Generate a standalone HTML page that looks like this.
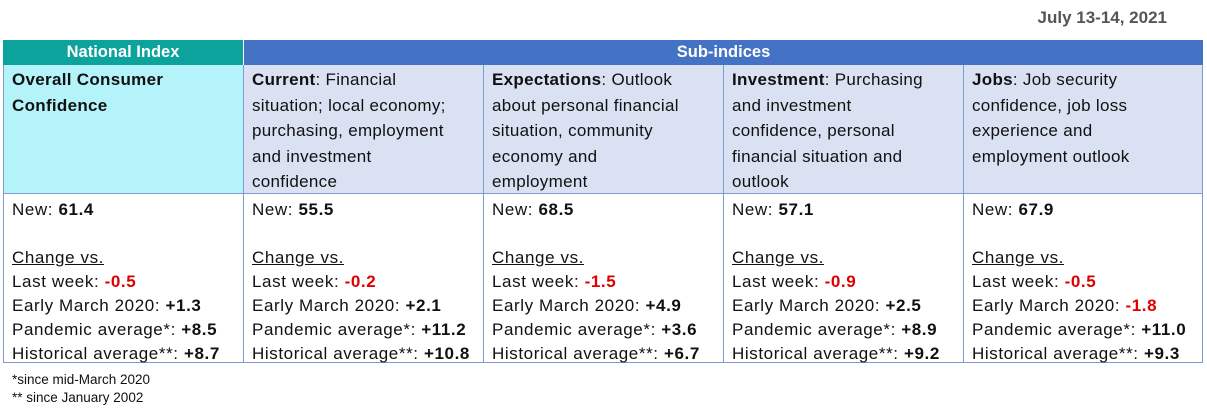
<!DOCTYPE html>
<html><head><meta charset="utf-8"><style>
body{margin:0;width:1207px;height:409px;background:#fff;font-family:"Liberation Sans",sans-serif;position:relative;overflow:hidden;color:#111}
.c{position:absolute;box-sizing:border-box;padding:0 0 0 8px;font-size:17px;white-space:nowrap}
.h{top:40px;height:25px;color:#fff;font-weight:bold;text-align:center;line-height:25px;font-size:16.5px;padding:0}
.r2{top:65px;height:128px;line-height:25.5px;padding-top:2px;border-right:1px solid #7f9bd0;letter-spacing:0.3px}
.r3{top:193px;height:170px;line-height:24px;padding-top:4px;border-right:1px solid #7f9bd0;border-bottom:1px solid #7f9bd0;border-top:1px solid #7f9bd0;letter-spacing:0.6px}
.red{color:#e00000;font-weight:bold}
u{text-decoration:underline}
</style></head><body>
<div style="position:absolute;right:40px;top:8px;font-weight:bold;font-size:17px;color:#555">July 13-14, 2021</div>
<div class="c h" style="left:3px;width:240px;background:#0ca39c">National Index</div>
<div class="c h" style="left:243px;width:960px;background:#4472c4;border-left:1px solid #fff">Sub-indices</div>

<div class="c r2" style="left:3px;width:241px;background:#b5f3fb;border-left:1px solid #7f9bd0"><b>Overall Consumer<br>Confidence</b></div>
<div class="c r2" style="left:244px;width:240px;background:#d9e1f2"><b>Current</b>: Financial<br>situation; local economy;<br>purchasing, employment<br>and investment<br>confidence</div>
<div class="c r2" style="left:484px;width:240px;background:#d9e1f2"><b>Expectations</b>: Outlook<br>about personal financial<br>situation, community<br>economy and<br>employment</div>
<div class="c r2" style="left:724px;width:240px;background:#d9e1f2"><b>Investment</b>: Purchasing<br>and investment<br>confidence, personal<br>financial situation and<br>outlook</div>
<div class="c r2" style="left:964px;width:239px;background:#d9e1f2"><b>Jobs</b>: Job security<br>confidence, job loss<br>experience and<br>employment outlook</div>

<div class="c r3" style="left:3px;width:241px;border-left:1px solid #7f9bd0">New: <b>61.4</b><br><br><u>Change vs.</u><br>Last week: <span class="red">-0.5</span><br>Early March 2020: <b>+1.3</b><br>Pandemic average*: <b>+8.5</b><br>Historical average**: <b>+8.7</b></div>
<div class="c r3" style="left:244px;width:240px">New: <b>55.5</b><br><br><u>Change vs.</u><br>Last week: <span class="red">-0.2</span><br>Early March 2020: <b>+2.1</b><br>Pandemic average*: <b>+11.2</b><br>Historical average**: <b>+10.8</b></div>
<div class="c r3" style="left:484px;width:240px">New: <b>68.5</b><br><br><u>Change vs.</u><br>Last week: <span class="red">-1.5</span><br>Early March 2020: <b>+4.9</b><br>Pandemic average*: <b>+3.6</b><br>Historical average**: <b>+6.7</b></div>
<div class="c r3" style="left:724px;width:240px">New: <b>57.1</b><br><br><u>Change vs.</u><br>Last week: <span class="red">-0.9</span><br>Early March 2020: <b>+2.5</b><br>Pandemic average*: <b>+8.9</b><br>Historical average**: <b>+9.2</b></div>
<div class="c r3" style="left:964px;width:239px">New: <b>67.9</b><br><br><u>Change vs.</u><br>Last week: <span class="red">-0.5</span><br>Early March 2020: <span class="red">-1.8</span><br>Pandemic average*: <b>+11.0</b><br>Historical average**: <b>+9.3</b></div>

<div style="position:absolute;left:12px;top:372px;font-size:13.5px">*since mid-March 2020</div>
<div style="position:absolute;left:12px;top:390px;font-size:13.5px">** since January 2002</div>
</body></html>
